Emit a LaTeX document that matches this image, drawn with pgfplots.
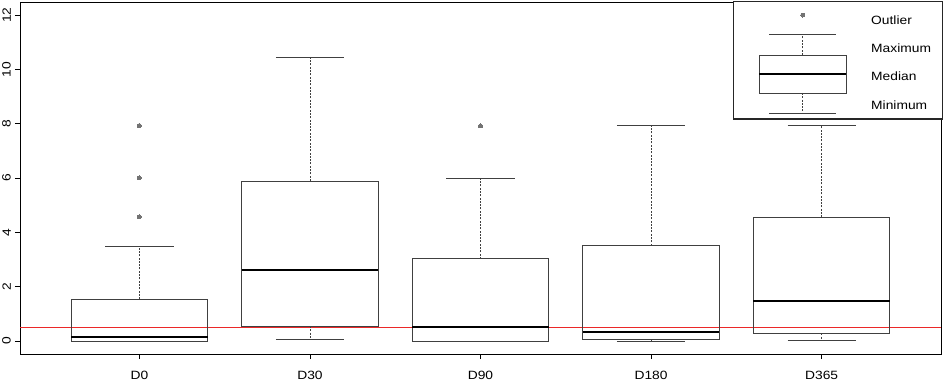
\documentclass[border=0pt]{standalone}
\usepackage{fontspec}
\setmainfont{Liberation Sans}[FakeStretch=1.15]
\usepackage{pgfplots}
\pgfplotsset{compat=1.18}
\usepgfplotslibrary{statistics}
\definecolor{boxline}{gray}{0.25}
\definecolor{refred}{RGB}{235,40,40}
\pgfplotsset{
  boxplot/draw/whisker/.code 2 args={%
    \draw[/pgfplots/boxplot/every whisker/.try, dash pattern=on 2pt off 1.3pt]
      (boxplot cs:#1) -- (boxplot cs:#2);
    \draw[/pgfplots/boxplot/every whisker/.try]
      (boxplot whisker cs:#2,0) -- (boxplot whisker cs:#2,1);
  },
  boxplot/every median/.style={line width=2pt, black},
  mybox/.style={boxline, line width=0.9pt, mark=*, mark size=2pt,
    mark options={fill=black!55, draw=black!55, line width=0pt}},
}
\begin{document}
\begin{tikzpicture}
\begin{axis}[
  name=ax,
  scale only axis,
  width=921pt, height=352pt,
  xmin=0.3, xmax=5.7, ymin=-0.48, ymax=12.48,
  xtick={1,2,3,4,5},
  xticklabels={D0,D30,D90,D180,D365},
  ytick={0,2,4,6,8,10,12},
  tick align=outside,
  xtick pos=bottom, ytick pos=left,
  major tick length=5pt,
  tick style={black, line width=0.8pt},
  axis line style={black, line width=0.9pt},
  clip=false,
  font=\fontsize{12}{14}\selectfont,
  /pgf/number format/assume math mode=true,
  yticklabel style={rotate=90, anchor=south, inner sep=1pt},
  yticklabel shift=3pt,
  xticklabel style={anchor=north, inner sep=1pt},
  xticklabel shift=11pt,
  boxplot/draw direction=y,
  boxplot/box extend=0.8,
  boxplot/whisker extend=0.4,
]
% reference line
\addplot[color=refred, draw=refred, line width=1pt, mark=none, forget plot] table {
x y
0.3 0.49
5.7 0.49
};
% D0
\addplot[mybox, boxplot prepared={draw position=1,
  lower whisker=0, lower quartile=0, median=0.16,
  upper quartile=1.54, upper whisker=3.47}]
  coordinates {(0,4.57) (0,6.0) (0,7.93)};
% D30
\addplot[mybox, boxplot prepared={draw position=2,
  lower whisker=0.06, lower quartile=0.55, median=2.61,
  upper quartile=5.89, upper whisker=10.45}]
  coordinates {};
% D90
\addplot[mybox, boxplot prepared={draw position=3,
  lower whisker=0, lower quartile=0, median=0.53,
  upper quartile=3.02, upper whisker=5.99}]
  coordinates {(0,7.92)};
% D180
\addplot[mybox, boxplot prepared={draw position=4,
  lower whisker=0, lower quartile=0.04, median=0.32,
  upper quartile=3.51, upper whisker=7.93}]
  coordinates {};
% D365
\addplot[mybox, boxplot prepared={draw position=5,
  lower whisker=0.01, lower quartile=0.28, median=1.48,
  upper quartile=4.55, upper whisker=7.92}]
  coordinates {};
% legend frame
\draw[black!85, line width=1.6pt, fill=white] (axis cs:4.484,8.17) rectangle (axis cs:5.712,12.5);
% legend boxplot
\addplot[mybox, boxplot prepared={draw position=4.889,
  box extend=0.51, whisker extend=0.39,
  lower whisker=8.39, lower quartile=9.13, median=9.83,
  upper quartile=10.53, upper whisker=11.3}]
  coordinates {(0,12.0)};
\node[anchor=west] at (axis cs:5.27,11.8) {Outlier};
\node[anchor=west] at (axis cs:5.27,10.77) {Maximum};
\node[anchor=west] at (axis cs:5.27,9.75) {Median};
\node[anchor=west] at (axis cs:5.27,8.67) {Minimum};
\end{axis}
\pgfresetboundingbox
\path[use as bounding box] ([shift={(-20pt,-28pt)}]ax.south west) rectangle ([shift={(2pt,2pt)}]ax.north east);
\end{tikzpicture}
\end{document}
